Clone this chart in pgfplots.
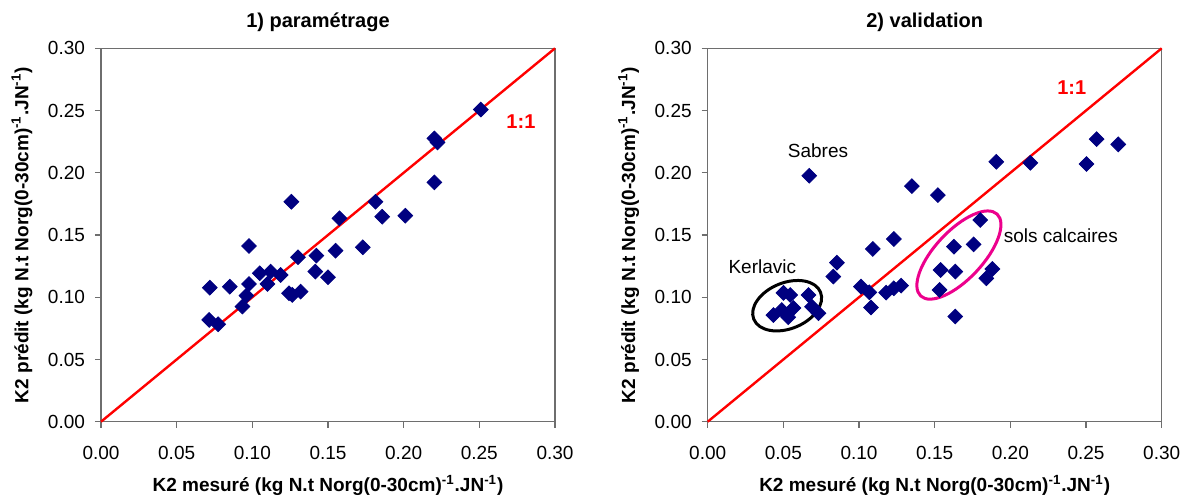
\documentclass[border=0pt]{standalone}
\usepackage{pgfplots}
\pgfplotsset{compat=1.18}
\usepackage{fontspec}
\setmainfont{Liberation Sans}
\definecolor{ptnavy}{RGB}{0,0,128}
\definecolor{framegray}{RGB}{110,110,110}

\pgfplotsset{
  k2panel/.style={
    width=227pt, height=186.7pt, scale only axis,
    xmin=0, xmax=0.3, ymin=0, ymax=0.3,
    xtick={0,0.05,...,0.3}, ytick={0,0.05,...,0.3},
    xtick pos=left, ytick pos=left,
    tick align=outside, major tick length=3pt,
    axis line style={framegray, line width=0.6pt},
    tick style={framegray, line width=0.6pt},
    /pgf/number format/assume math mode=true,
    /pgf/number format/fixed, /pgf/number format/fixed zerofill,
    /pgf/number format/precision=2,
    ticklabel style={font=\fontsize{9.5}{11}\selectfont},
    yticklabel style={xshift=-1.5pt},
    xticklabel style={yshift=-5.5pt},
    label style={font=\fontsize{9.5}{11}\selectfont\bfseries},
    xlabel style={at={(axis description cs:0.5,-0.171)}, anchor=center},
    ylabel style={at={(axis description cs:-0.174,0.5)}, anchor=center, rotate=0},
    title style={at={(axis description cs:0.478,1.024)}, anchor=base,
      font=\fontsize{10}{12}\selectfont\bfseries},
    xlabel={K2 mesuré (kg N.t Norg(0-30cm)\textsuperscript{-1}.JN\textsuperscript{-1})},
    ylabel={K2 prédit (kg N.t Norg(0-30cm)\textsuperscript{-1}.JN\textsuperscript{-1})},
    clip=false,
  },
  pts/.style={only marks, mark=square*, mark size=2.6pt,
    mark options={rotate=45, fill=ptnavy, draw=ptnavy}},
  oneone/.style={red, line width=1.2pt, no marks},
}

\begin{document}
\begin{tikzpicture}

% 1) parametrage
\begin{axis}[k2panel, at={(0pt,0pt)}, anchor=south west, title={1) paramétrage}]
\addplot[oneone] coordinates {(0,0) (0.3,0.3)};
\addplot[pts] coordinates {
  (0.2510,0.2508) (0.2203,0.2276) (0.2224,0.2244) (0.2203,0.1923)
  (0.1258,0.1767) (0.1814,0.1767) (0.1858,0.1647) (0.2011,0.1655)
  (0.1576,0.1634) (0.0978,0.1412) (0.1730,0.1401) (0.1550,0.1374)
  (0.1302,0.1321) (0.1423,0.1334) (0.1416,0.1206) (0.1500,0.1161)
  (0.1049,0.1193) (0.1121,0.1206) (0.1187,0.1179) (0.1100,0.1107)
  (0.0978,0.1107) (0.0961,0.1013) (0.0935,0.0925) (0.0719,0.1077)
  (0.0851,0.1085) (0.0715,0.0818) (0.0774,0.0783) (0.1242,0.1032)
  (0.1264,0.1019) (0.1319,0.1045)
};
\node[red, font=\fontsize{10}{12}\selectfont\bfseries, anchor=base]
  at (axis cs:0.2775,0.2352) {1:1};
\end{axis}

% 2) validation
\begin{axis}[k2panel, at={(303.35pt,0pt)}, anchor=south west, title={2) validation}]
\addplot[oneone] coordinates {(0,0) (0.3,0.3)};
\addplot[pts] coordinates {
  (0.0434,0.0857) (0.0490,0.0897) (0.0501,0.1035) (0.0545,0.1018)
  (0.0567,0.0914) (0.0532,0.0840) (0.0666,0.1018) (0.0689,0.0924)
  (0.0732,0.0871) (0.0671,0.1976) (0.0830,0.1166) (0.0854,0.1278)
  (0.1013,0.1085) (0.1068,0.1040) (0.1079,0.0917) (0.1091,0.1388)
  (0.1179,0.1037) (0.1230,0.1072) (0.1278,0.1093) (0.1230,0.1468)
  (0.1349,0.1893) (0.1521,0.1821) (0.1539,0.1219) (0.1532,0.1059)
  (0.1636,0.1206) (0.1627,0.1406) (0.1636,0.0845) (0.1757,0.1425)
  (0.1801,0.1620) (0.1841,0.1152) (0.1881,0.1227) (0.1907,0.2088)
  (0.2132,0.2080) (0.2503,0.2070) (0.2570,0.2270) (0.2713,0.2228)
};
\draw[black, line width=1.5pt, rotate around={22:(axis cs:0.0525,0.0932)}]
  (axis cs:0.0525,0.0932) ellipse [x radius=18pt, y radius=11.5pt];
\draw[magenta, line width=1.5pt, rotate around={47:(axis cs:0.1660,0.1339)}]
  (axis cs:0.1660,0.1339) ellipse [x radius=28pt, y radius=12pt];
\node[red, font=\fontsize{10}{12}\selectfont\bfseries, anchor=base]
  at (axis cs:0.2406,0.2625) {1:1};
\node[font=\fontsize{9.5}{11}\selectfont, anchor=base] at (axis cs:0.0729,0.2124) {Sabres};
\node[font=\fontsize{9.5}{11}\selectfont, anchor=base] at (axis cs:0.0361,0.1192) {Kerlavic};
\node[font=\fontsize{9.5}{11}\selectfont, anchor=base west, inner sep=0pt] at (axis cs:0.1954,0.1438) {sols calcaires};
\end{axis}

\pgfresetboundingbox
\path (-50.5pt,-39.15pt) rectangle (544pt,210.85pt);
\end{tikzpicture}
\end{document}
